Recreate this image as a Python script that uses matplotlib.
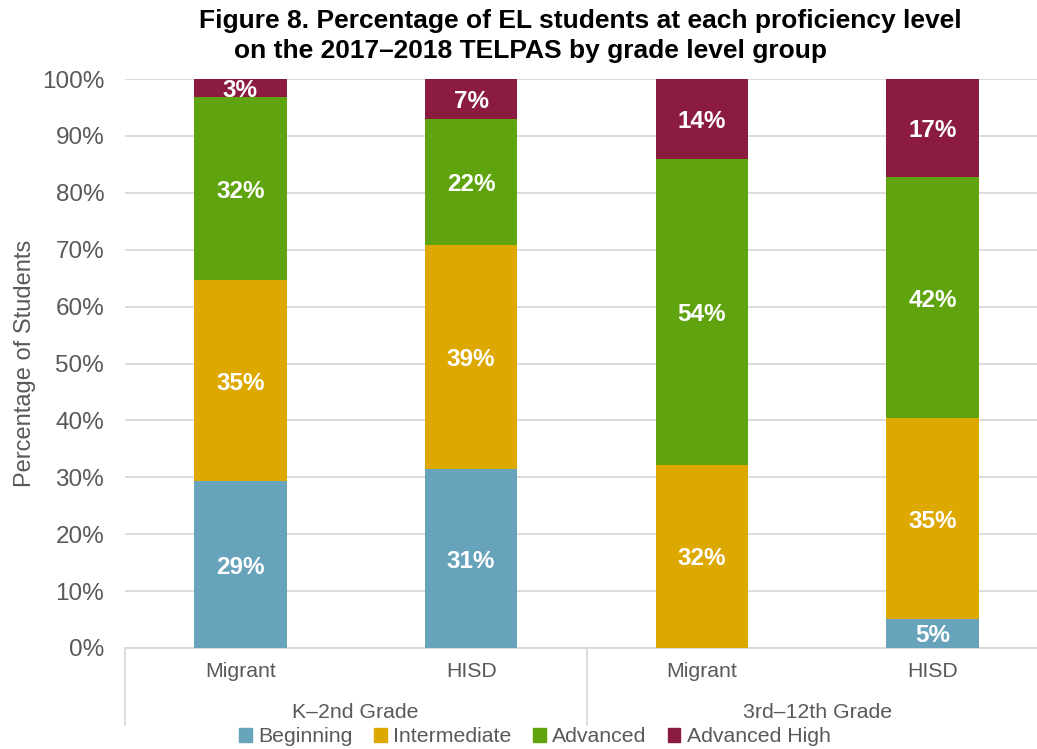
import numpy as np
import matplotlib.pyplot as plt
from matplotlib.patches import Patch

plt.rcParams["font.family"] = ["Liberation Sans", "DejaVu Sans"]

# ── data ──
groups = ["K–2nd Grade", "3rd–12th Grade"]
bars = ["Migrant", "HISD", "Migrant", "HISD"]
levels = ["Beginning", "Intermediate", "Advanced", "Advanced High"]
beginning = [29.3, 31.4, 0.0, 5.1]
intermediate = [35.3, 39.4, 32.2, 35.3]
advanced = [32.3, 22.1, 53.8, 42.3]
advanced_high = [3.1, 7.1, 14.0, 17.3]

colors = ["#67A3BA", "#DDA800", "#5FA40F", "#8B1C40"]
grey = "#595959"
line_c = "#D9D9D9"

fig = plt.figure(figsize=(10.37, 7.49), dpi=100)
ax = fig.add_axes([125 / 1037, 1 - 648 / 749, 923 / 1037, 569 / 749])

x = np.arange(len(bars))
bottom = np.zeros(len(bars))
for vals, col in zip([beginning, intermediate, advanced, advanced_high], colors):
    vals = np.array(vals)
    ax.bar(x, vals, 0.4, bottom=bottom, color=col, zorder=3)
    for xi, v, b in zip(x, vals, bottom):
        if v > 0.5:
            ax.text(xi, b + v / 2, f"{round(v):.0f}%", ha="center", va="center_baseline",
                    color="white", fontsize=17.5, fontweight="bold", zorder=4)
    bottom += vals

ax.set_xlim(-0.5, 3.5)
ax.set_ylim(0, 100)
ax.set_yticks(np.arange(0, 101, 10))
ax.set_yticklabels([f"{t}%" for t in range(0, 101, 10)])
ax.yaxis.grid(True, color=line_c, linewidth=1.3, zorder=0)
ax.tick_params(axis="y", length=0, labelsize=17.5, labelcolor=grey, pad=15)
ax.set_xticks([])
for s in ["top", "right", "left"]:
    ax.spines[s].set_visible(False)
ax.spines["bottom"].set_color(line_c)
ax.spines["bottom"].set_linewidth(1.3)

ax.set_ylabel("Percentage of Students", fontsize=17, color=grey, labelpad=4)

# multi-level category axis
for xi, name in zip(x, bars):
    ax.text(xi, -0.042, name, transform=ax.get_xaxis_transform(), ha="center",
            va="center", fontsize=15.3, color=grey)
for gi, g in enumerate(groups):
    ax.text(2 * gi + 0.5, -0.113, g, transform=ax.get_xaxis_transform(),
            ha="center", va="center", fontsize=15.3, color=grey)
for xv in [-0.5, 1.5, 3.5]:
    ax.plot([xv, xv], [0, -0.135], transform=ax.get_xaxis_transform(),
            color=line_c, linewidth=1.3, clip_on=False)

fig.text(580 / 1037, 1 - 21 / 749, "Figure 8. Percentage of EL students at each proficiency level",
         ha="center", va="center", fontsize=19, fontweight="bold")
fig.text(531 / 1037, 1 - 51 / 749, "on the 2017–2018 TELPAS by grade level group",
         ha="center", va="center", fontsize=19, fontweight="bold")

handles = [Patch(color=c, label=l) for c, l in zip(colors, levels)]
leg = fig.legend(handles=handles, loc="center", bbox_to_anchor=(535 / 1037, 1 - 737 / 749),
                 ncol=4, frameon=False, fontsize=15.3, handlelength=0.6, handleheight=0.6,
                 handletextpad=0.3, columnspacing=1.0, borderpad=0)
for t in leg.get_texts():
    t.set_color(grey)

fig.savefig("out.png", dpi=100)
